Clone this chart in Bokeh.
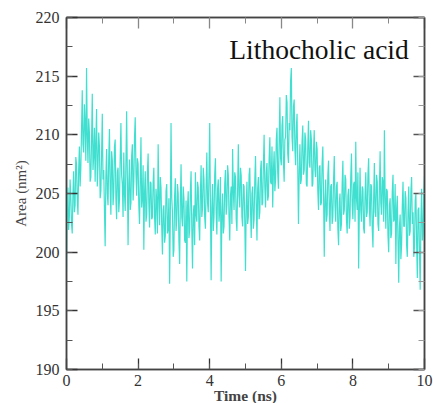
from bokeh.plotting import figure
from bokeh.models import LinearAxis, SingleIntervalTicker, Range1d, Label, CustomLabelingPolicy
from bokeh.embed import file_html
from bokeh.resources import INLINE

area_nm2 = [
    198.3, 203.6, 205.5, 201.9, 203.0, 206.2, 204.8, 202.4, 201.6, 205.0, 206.9, 203.4, 204.0, 208.1, 207.5, 204.6, 203.2, 207.0, 209.0, 205.6,
    207.1, 210.4, 213.8, 209.2, 208.5, 212.6, 211.0, 207.8, 215.7, 210.0, 207.6, 211.4, 210.2, 206.0, 206.4, 209.6, 213.5, 207.0, 208.2, 210.6,
    206.0, 209.4, 212.2, 205.6, 207.4, 210.2, 209.0, 204.6, 205.2, 208.4, 211.8, 206.2, 207.0, 203.6, 200.5, 206.4, 208.8, 205.0, 204.0, 208.0,
    210.5, 205.4, 203.2, 208.6, 207.8, 204.0, 205.1, 209.0, 209.6, 204.6, 202.8, 206.8, 207.2, 203.4, 204.5, 208.0, 211.0, 206.6, 205.8, 203.0,
    208.5, 205.0, 203.5, 207.6, 212.0, 206.4, 200.6, 205.8, 207.9, 203.6, 204.2, 208.2, 209.2, 204.4, 206.0, 209.8, 211.5, 206.8, 204.8, 208.0,
    207.5, 204.0, 202.4, 206.2, 209.8, 203.8, 204.6, 207.4, 200.2, 205.0, 206.9, 202.6, 203.2, 206.8, 208.4, 204.2, 202.1, 206.0, 205.9, 202.8,
    203.0, 206.0, 207.2, 203.0, 201.5, 205.4, 204.4, 201.6, 209.2, 204.8, 202.3, 206.4, 205.5, 202.2, 199.8, 203.6, 204.0, 200.8, 201.4, 205.2,
    205.8, 201.6, 202.0, 204.6, 197.3, 203.0, 211.0, 204.6, 203.4, 199.6, 200.2, 204.8, 206.3, 201.8, 202.8, 205.8, 205.0, 201.0, 199.0, 204.2,
    207.5, 203.0, 202.2, 205.6, 204.6, 201.0, 200.8, 204.4, 197.5, 203.8, 205.2, 201.2, 201.9, 205.2, 206.9, 202.0, 198.6, 203.2, 204.0, 200.6,
    206.8, 203.2, 202.6, 206.0, 205.5, 202.2, 201.0, 205.0, 207.4, 203.0, 203.8, 207.2, 206.2, 203.0, 202.0, 205.6, 208.5, 204.2, 203.4, 206.6,
    211.0, 204.0, 197.6, 203.8, 205.8, 201.8, 203.0, 206.6, 208.0, 203.4, 201.5, 205.4, 206.2, 202.6, 203.6, 206.4, 197.5, 203.0, 205.0, 201.6,
    202.2, 205.8, 207.0, 203.2, 204.0, 207.4, 206.6, 203.0, 201.0, 204.8, 205.6, 202.4, 208.8, 205.2, 203.6, 206.8, 206.4, 202.8, 201.8, 205.4,
    209.2, 204.8, 203.8, 207.2, 206.5, 203.0, 202.2, 205.8, 205.6, 202.6, 198.4, 204.0, 206.0, 202.4, 203.0, 206.6, 207.2, 203.6, 201.2, 205.0,
    205.6, 202.0, 202.8, 206.2, 208.2, 204.0, 201.0, 205.4, 206.4, 202.8, 203.4, 207.0, 207.8, 204.0, 204.2, 207.4, 210.0, 205.6, 203.8, 206.8,
    207.6, 204.4, 204.8, 208.0, 209.8, 206.0, 205.8, 209.0, 203.8, 207.0, 208.6, 205.2, 206.2, 209.6, 210.6, 206.8, 205.4, 209.4, 213.2, 208.0,
    207.4, 210.8, 211.6, 207.6, 206.0, 209.6, 209.8, 213.4, 212.8, 208.4, 207.6, 211.0, 210.4, 214.6, 215.7, 209.8, 208.6, 212.4, 213.0, 208.8,
    207.4, 210.6, 211.8, 207.2, 202.4, 206.8, 209.2, 205.8, 206.2, 209.4, 210.8, 206.6, 207.0, 210.2, 209.6, 205.8, 205.6, 209.0, 211.2, 207.6,
    207.2, 210.4, 209.6, 205.6, 205.8, 208.6, 210.4, 207.0, 206.4, 209.4, 208.8, 205.2, 203.6, 207.2, 207.4, 204.0, 204.2, 207.6, 209.0, 205.0,
    199.6, 204.4, 206.2, 202.6, 203.2, 206.6, 207.8, 203.8, 201.8, 205.6, 205.8, 202.4, 203.0, 206.2, 208.2, 204.0, 202.6, 205.6, 206.0, 202.0,
    200.6, 204.2, 205.0, 201.8, 202.4, 205.8, 207.8, 203.2, 203.6, 206.6, 206.2, 202.8, 201.6, 204.8, 205.4, 202.0, 203.0, 206.4, 208.4, 204.0,
    202.8, 205.8, 206.0, 202.6, 209.4, 204.6, 203.6, 206.8, 198.6, 203.4, 207.2, 203.6, 202.6, 205.6, 205.4, 202.0, 201.6, 205.0, 206.8, 203.0,
    203.4, 206.6, 208.0, 203.8, 202.2, 205.8, 205.6, 202.0, 200.4, 204.6, 207.6, 203.4, 203.0, 206.6, 206.0, 202.4, 201.8, 205.4, 208.6, 204.2,
    203.2, 206.4, 206.0, 202.6, 210.4, 204.8, 202.0, 205.4, 205.2, 201.4, 200.0, 204.0, 204.6, 201.2, 201.6, 205.2, 206.6, 202.6, 202.8, 205.8,
    199.0, 203.6, 204.8, 201.0, 197.4, 202.2, 203.2, 199.4, 200.6, 204.0, 206.0, 202.2, 202.2, 205.2, 204.6, 200.6, 199.6, 203.4, 205.6, 201.4,
    201.8, 205.2, 206.4, 202.4, 203.4, 199.6, 200.4, 204.4, 205.0, 200.8, 197.8, 203.6, 203.8, 200.0, 196.8, 202.8, 205.4, 201.0, 201.6, 205.0,
    206.5,
]
time_step_ns = 0.02
time_ns = [i * time_step_ns for i in range(len(area_nm2))]

x_ticks_major = 2
y_ticks_major = 5
x_range = (0, 10)
y_range = (190, 220)
title_text = "Lithocholic acid"
x_label = "Time (ns)"
y_label = "Area (nm\u00b2)"

FONT = "Liberation Serif"

p = figure(
    output_backend="svg", toolbar_location=None,
    frame_width=358, frame_height=352,
    x_range=Range1d(*x_range), y_range=Range1d(*y_range),
    min_border_left=66, min_border_right=4, min_border_top=17, min_border_bottom=30,
    x_axis_location=None, y_axis_location=None,
)
p.background_fill_color = "white"
p.border_fill_color = "white"
p.outline_line_color = "#444444"
p.outline_line_width = 1.5
p.xgrid.visible = False
p.ygrid.visible = False

p.line(time_ns, area_nm2, line_color="#40E0D0", line_width=1.2)

no_labels = CustomLabelingPolicy(code="""
    for (const i of indices) { indices.unset(i) }
    return indices
""")

def style(ax, labels=True):
    ax.axis_line_color = "#444444"
    ax.axis_line_width = 1.5
    ax.major_tick_in = 11
    ax.major_tick_out = 0
    ax.minor_tick_in = 6
    ax.minor_tick_out = 0
    ax.major_tick_line_color = "#333333"
    ax.minor_tick_line_color = "#555555"
    ax.major_tick_line_width = 1.3
    ax.minor_tick_line_width = 1.0
    ax.major_label_text_font = FONT
    ax.axis_label_text_font = FONT
    if not labels:
        ax.major_label_policy = no_labels
        ax.major_label_standoff = 0

xt = lambda: SingleIntervalTicker(interval=x_ticks_major, num_minor_ticks=2)
yt = lambda: SingleIntervalTicker(interval=y_ticks_major, num_minor_ticks=2)

bx = LinearAxis(ticker=xt(), axis_label=x_label)
style(bx)
bx.major_label_text_font_size = "16px"
bx.major_label_text_color = "#333333"
bx.major_label_standoff = 5
bx.axis_label_text_font_size = "15.5px"
bx.axis_label_text_font_style = "bold"
bx.axis_label_text_color = "#444444"
bx.axis_label_standoff = -2
p.add_layout(bx, "below")

ly = LinearAxis(ticker=yt(), axis_label=y_label)
style(ly)
ly.major_label_text_font_size = "16px"
ly.major_label_text_color = "#333333"
ly.major_label_standoff = 7
ly.axis_label_text_font_size = "15px"
ly.axis_label_text_font_style = "normal"
ly.axis_label_text_color = "#444444"
ly.axis_label_standoff = 4
p.add_layout(ly, "left")

tx = LinearAxis(ticker=xt())
style(tx, labels=False)
tx.major_tick_line_color = "#888888"
tx.minor_tick_line_color = "#888888"
p.add_layout(tx, "above")

ry = LinearAxis(ticker=yt())
style(ry, labels=False)
ry.major_tick_line_color = "#555555"
ry.minor_tick_line_color = "#999999"
p.add_layout(ry, "right")

p.add_layout(Label(
    x=9.56, y=217.3, text=title_text, text_align="right", text_baseline="middle",
    text_font=FONT, text_font_size="27.5px", text_color="#111111",
))

open("out.html", "w").write(file_html(p, INLINE))
